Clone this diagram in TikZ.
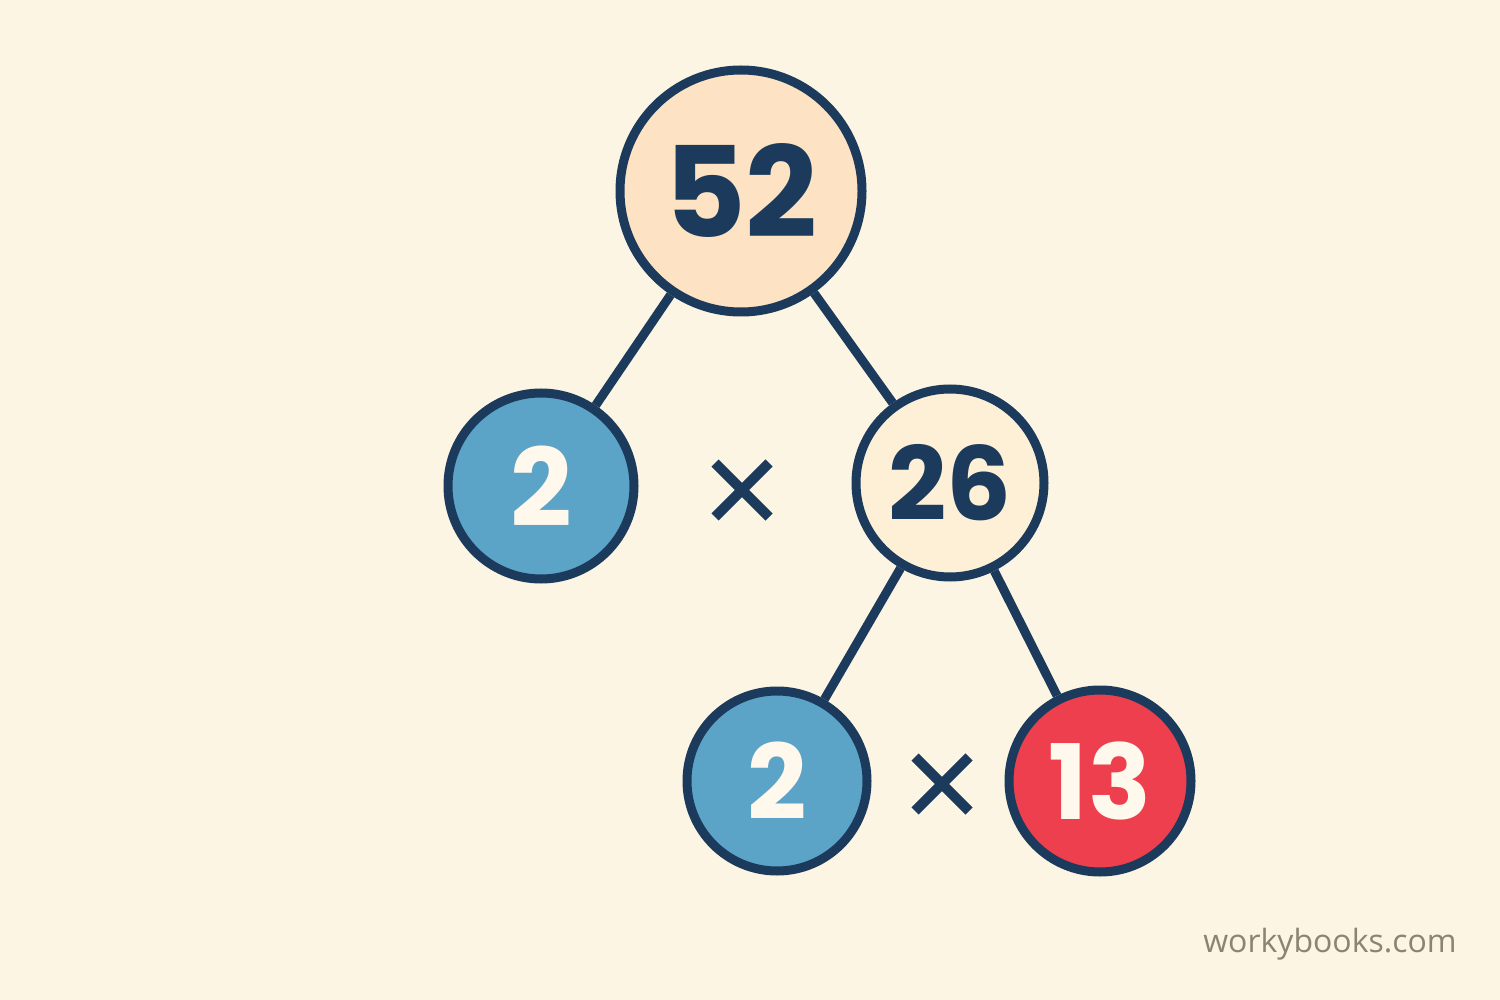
\documentclass[tikz,border=0pt]{standalone}
\usepackage{fontspec}
\usetikzlibrary{calc}
\newfontfamily\numfont{Poppins}
\newfontfamily\markfont{Open Sans}
\definecolor{bg}{HTML}{FCF5E3}
\definecolor{navy}{HTML}{1B3A5C}
\definecolor{peach}{HTML}{FDE3C3}
\definecolor{cream}{HTML}{FDF0D6}
\definecolor{sky}{HTML}{5BA4C7}
\definecolor{redc}{HTML}{EE3F4F}
\definecolor{wtext}{HTML}{FFF8EC}
\definecolor{mark}{HTML}{8A8470}
\tikzset{
  ball/.style={circle, draw=navy, line width=4.5pt, inner sep=0pt},
  conn/.style={draw=navy, line width=4.5pt},
  timesmark/.style={draw=navy, line width=5pt},
}
\begin{document}
\begin{tikzpicture}[x=0.5pt,y=-0.5pt]
\fill[bg] (0,0) rectangle (1500,1000);
\useasboundingbox (0,0) rectangle (1500,1000);
\node[ball, fill=peach, minimum size=121pt, text=navy, font=\numfont\bfseries\fontsize{63}{63}\selectfont] (n52) at (741,191) {52};
\node[ball, fill=sky, minimum size=93pt, text=wtext, font=\numfont\bfseries\fontsize{54}{54}\selectfont] (n2a) at (541,486) {2};
\node[ball, fill=cream, minimum size=94pt, text=navy, font=\numfont\bfseries\fontsize{51}{51}\selectfont] (n26) at (950,483) {26};
\node[ball, fill=sky, minimum size=90pt, text=wtext, font=\numfont\bfseries\fontsize{52}{52}\selectfont] (n2b) at (777,781) {2};
\node[ball, fill=redc, minimum size=91pt, text=wtext, font=\numfont\bfseries\fontsize{52}{52}\selectfont] (n13) at (1100,781) {13};
\draw[conn] (n52) -- (n2a);
\draw[conn] (n52) -- (n26);
\draw[conn] (n26) -- (n2b);
\draw[conn] (n26) -- (n13);
\coordinate (ta) at (742,490);
\coordinate (tb) at (942,784);
\draw[timesmark] ($(ta)+(-27,-27)$) -- ($(ta)+(27,27)$);
\draw[timesmark] ($(ta)+(-27,27)$) -- ($(ta)+(27,-27)$);
\draw[timesmark] ($(tb)+(-27,-27)$) -- ($(tb)+(27,27)$);
\draw[timesmark] ($(tb)+(-27,27)$) -- ($(tb)+(27,-27)$);
\node[text=mark, font=\markfont\fontsize{16}{16}\selectfont] (wm) at (1330,944) {workybooks.com};
\end{tikzpicture}
\end{document}
